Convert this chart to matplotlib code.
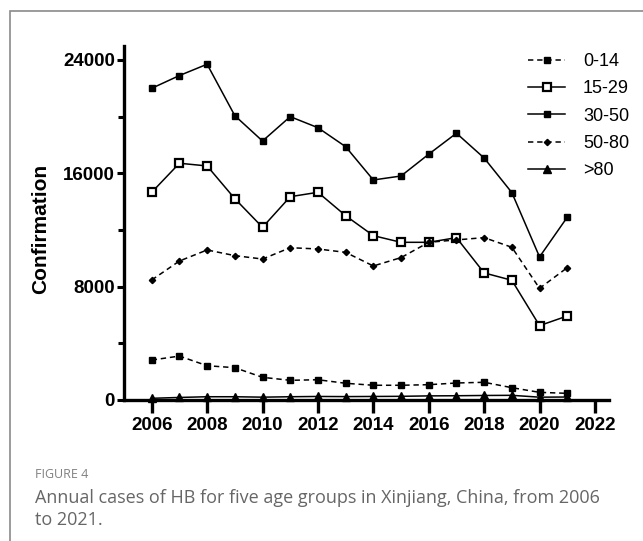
import matplotlib
matplotlib.use("Agg")
import matplotlib.pyplot as plt
from matplotlib.patches import Rectangle
from matplotlib.ticker import MultipleLocator

years = list(range(2006, 2022))
labels = ["0-14", "15-29", "30-50", "50-80", ">80"]
age_0_14 = [2820, 3100, 2420, 2280, 1600, 1390, 1430, 1180, 1040, 1040, 1080, 1200, 1250, 870, 540, 470]
age_15_29 = [14660, 16710, 16520, 14210, 12190, 14350, 14660, 13010, 11600, 11130, 11130, 11460, 8970, 8450, 5250, 5930]
age_30_50 = [22000, 22900, 23700, 20070, 18280, 20000, 19220, 17880, 15530, 15810, 17350, 18830, 17080, 14640, 10100, 12900]
age_50_80 = [8470, 9810, 10590, 10190, 9950, 10750, 10660, 10420, 9460, 10050, 11130, 11300, 11460, 10780, 7880, 9340]
age_80 = [120, 180, 230, 230, 200, 230, 250, 240, 250, 260, 290, 300, 320, 330, 200, 210]
xticks = [2006, 2008, 2010, 2012, 2014, 2016, 2018, 2020, 2022]
yticks = [0, 8000, 16000, 24000]

W, H = 643, 541
fig = plt.figure(figsize=(W / 100, H / 100), dpi=100)

# card border (left and top edges visible)
fig.patches.append(Rectangle((10 / W, -0.2), 2, 1.2 - 11 / H,
                             transform=fig.transFigure, fill=False,
                             edgecolor="#8a8a8a", linewidth=1.2))

ax = fig.add_axes([124 / W, 141 / H, 484.8 / W, 354.2 / H])

dash = (0, (3.5, 2.5))
ax.plot(years, age_0_14, color="black", lw=1.1, ls=dash, marker="s", ms=5,
        mfc="black", mec="black", label=labels[0])
ax.plot(years, age_15_29, color="black", lw=1.1, ls="-", marker="s", ms=6,
        mfc="white", mec="black", mew=1.6, label=labels[1])
ax.plot(years, age_30_50, color="black", lw=1.1, ls="-", marker="s", ms=5,
        mfc="black", mec="black", label=labels[2])
ax.plot(years, age_50_80, color="black", lw=1.1, ls=dash, marker="D", ms=3.2,
        mfc="black", mec="black", label=labels[3])
ax.plot(years, age_80, color="black", lw=1.1, ls="-", marker="^", ms=6,
        mfc="black", mec="black", label=labels[4], clip_on=False)

ax.set_xlim(2005, 2022.5)
ax.set_ylim(0, 25000)
ax.set_xticks(xticks)
ax.set_yticks(yticks)
ax.yaxis.set_minor_locator(MultipleLocator(4000))
ax.spines["top"].set_visible(False)
ax.spines["right"].set_visible(False)
ax.spines["left"].set_linewidth(2.4)
ax.spines["bottom"].set_linewidth(2.4)
ax.tick_params(axis="x", which="major", length=9, width=2.4, direction="out", pad=3)
ax.tick_params(axis="y", which="major", length=5, width=2.2, direction="out", pad=1.5)
ax.tick_params(axis="y", which="minor", length=4, width=2.2, direction="out")
for lab in ax.get_xticklabels():
    lab.set_fontfamily("Liberation Sans")
    lab.set_fontweight("bold")
    lab.set_fontsize(13.5)
for lab in ax.get_yticklabels():
    lab.set_fontfamily("Liberation Sans")
    lab.set_fontweight("bold")
    lab.set_fontsize(13.5)
ax.set_ylabel("Confirmation", fontfamily="Liberation Sans", fontweight="bold",
              fontsize=15)
ax.yaxis.set_label_coords(-0.152, 0.5 - (229 - 222.9) / 354.2)

leg = ax.legend(loc="upper left", bbox_to_anchor=(528 / W, 1 - 53 / H),
                bbox_transform=fig.transFigure, frameon=False,
                prop={"family": "Liberation Sans", "size": 13},
                handlelength=2.05, handletextpad=1.0, labelspacing=0.57,
                borderpad=0, borderaxespad=0)

fig.text(35 / W, 1 - 474 / H, "FIGURE 4", fontfamily="Open Sans", fontsize=9,
         color="#808080", va="center", ha="left")
fig.text(35 / W, 1 - 509 / H,
         "Annual cases of HB for five age groups in Xinjiang, China, from 2006\nto 2021.",
         fontfamily="Open Sans", fontsize=13.0, color="#666666", va="center",
         ha="left", linespacing=1.3)

fig.savefig("out.png", dpi=100)
